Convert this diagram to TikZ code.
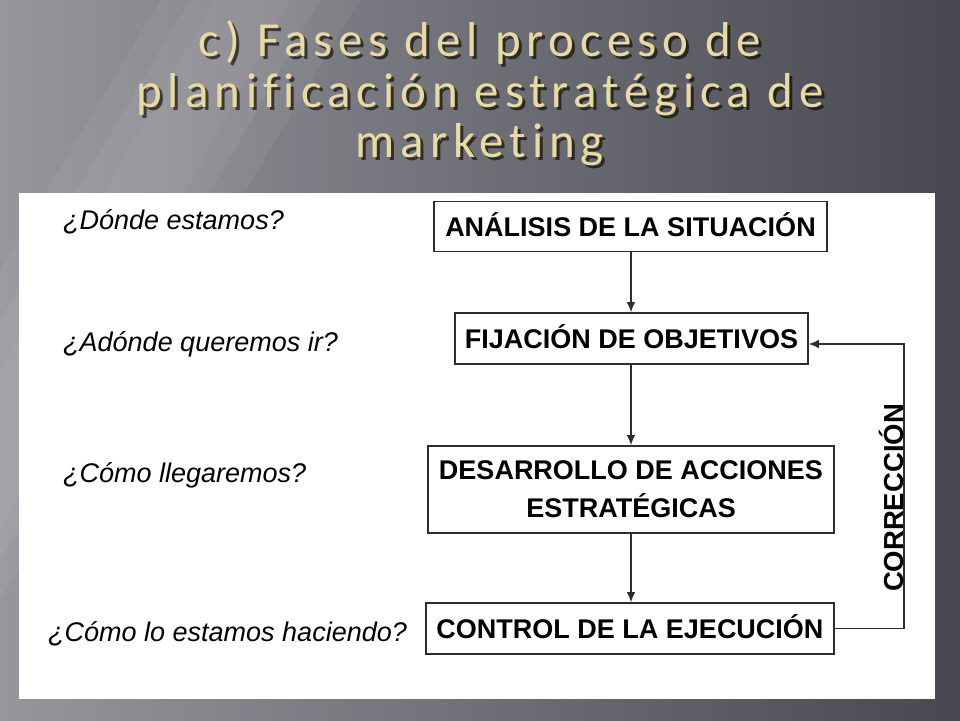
\documentclass[tikz,border=0pt]{standalone}
\usepackage{fontspec}
\setmainfont{Liberation Sans}
\newfontfamily\titlefont[LetterSpace=12,Ligatures={NoCommon}]{Carlito}
\usetikzlibrary{arrows.meta}
\definecolor{titlecol}{RGB}{232,218,160}
\definecolor{bgl}{RGB}{150,150,157}
\definecolor{bgd}{RGB}{72,72,80}
\definecolor{boxline}{RGB}{45,45,45}
\begin{document}
\begin{tikzpicture}[x=1pt,y=-1pt,
  stagebox/.style={draw=boxline, line width=1.6pt, fill=white, inner sep=0pt,
    font=\bfseries\fontsize{27}{38}\selectfont, text height=19.5pt, text depth=0pt},
  stagebox2/.style={draw=boxline, line width=1.6pt, fill=white, inner sep=0pt,
    font=\bfseries\fontsize{27}{38}\selectfont, align=center},
  question/.style={anchor=base west, inner sep=0pt, font=\itshape\fontsize{27}{32}\selectfont},
  titlefontstyle/.style={anchor=base, inner sep=0pt, font=\titlefont\fontsize{49}{52}\selectfont},
  titletext/.style={titlefontstyle, text=titlecol},
  titleshadow/.style={titlefontstyle, text=black, opacity=0.6},
  flowarrow/.style={draw=boxline, line width=1.3pt, -{Latex[length=10pt,width=8.5pt]}},
  sidelabel/.style={rotate=90, inner sep=0pt, font=\bfseries\fontsize{27.5}{30}\selectfont, text height=19pt, text depth=0pt}
]
\useasboundingbox (0,0) rectangle (960,720);
% background
\shade[left color=bgl, right color=bgd] (0,0) rectangle (960,720);
\fill[white, opacity=0.05] (160,0) -- (360,0) -- (0,600) -- (0,270) -- cycle;
\fill[white, opacity=0.05] (190,0) -- (320,0) -- (0,560) -- (0,320) -- cycle;
\fill[white, opacity=0.04] (215,0) -- (290,0) -- (0,530) -- (0,370) -- cycle;
% title shadow
\node[titleshadow] at (483,59) {c) Fases del proceso de};
\node[titleshadow] at (483,110) {planificación estratégica de};
\node[titleshadow] at (483,160) {marketing};
% title
\node[titletext] (t1) at (480,56) {c) Fases del proceso de};
\node[titletext] (t2) at (480,107) {planificación estratégica de};
\node[titletext] (t3) at (480,157) {marketing};
% white panel
\fill[white] (19,193) rectangle (935,699);
% questions
\node[question] (q1) at (63,229) {¿Dónde estamos?};
\node[question] (q2) at (63,351) {¿Adónde queremos ir?};
\node[question] (q3) at (63,482) {¿Cómo llegaremos?};
\node[question] (q4) at (48,641) {¿Cómo lo estamos haciendo?};
% boxes
\node[stagebox, minimum width=393pt, minimum height=50pt] (b1) at (630.5,226.5) {ANÁLISIS DE LA SITUACIÓN};
\node[stagebox, minimum width=353pt, minimum height=51pt] (b2) at (631.5,338.5) {FIJACIÓN DE OBJETIVOS};
\node[stagebox2, minimum width=406pt, minimum height=87pt] (b3) at (631,489.5) {DESARROLLO DE ACCIONES\\ESTRATÉGICAS};
\node[stagebox, minimum width=408pt, minimum height=51pt] (b4) at (630,628.5) {CONTROL DE LA EJECUCIÓN};
% arrows
\coordinate (ax) at (631,0);
\coordinate (fb) at (904,0);
\draw[flowarrow] (b1.south -| ax) -- (b2.north -| ax);
\draw[flowarrow] (b2.south -| ax) -- (b3.north -| ax);
\draw[flowarrow] (b3.south -| ax) -- (b4.north -| ax);
\draw[flowarrow] (b4.east) -- (b4.east -| fb) -- ([yshift=-5.5pt]b2.east -| fb) -- ([yshift=-5.5pt]b2.east);
\node[sidelabel] (corr) at (894,498) {CORRECCIÓN};
\end{tikzpicture}
\end{document}
